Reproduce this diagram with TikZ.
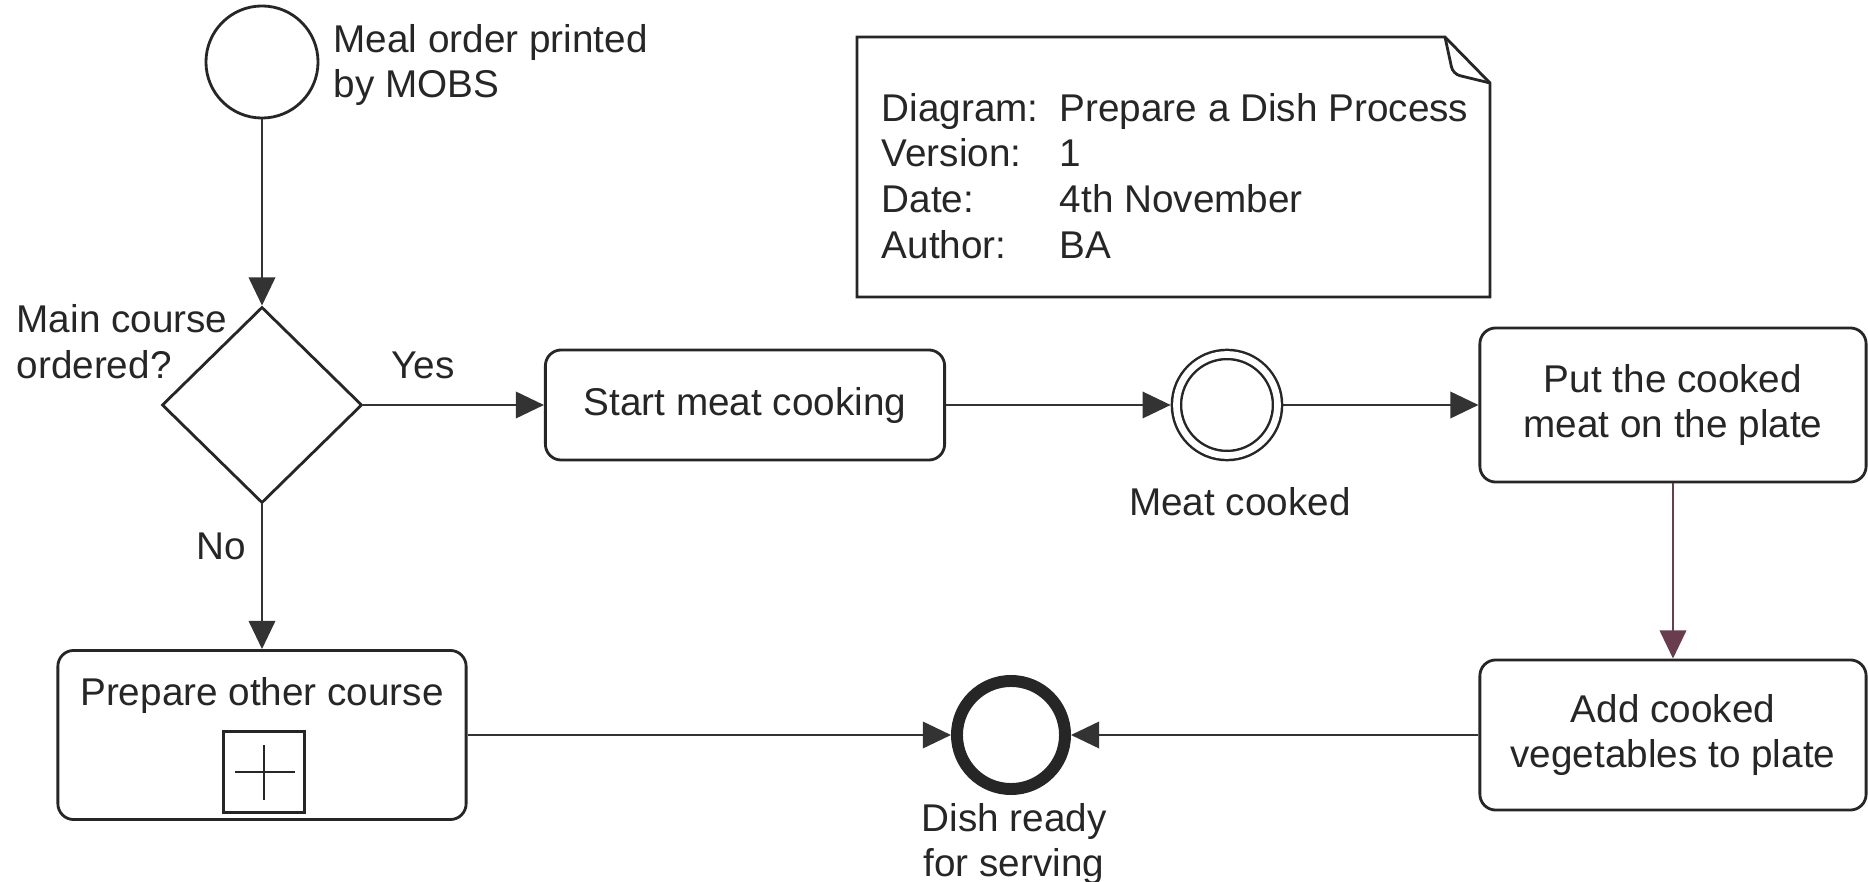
\documentclass[tikz,border=0pt]{standalone}
\usepackage{fontspec}
\setmainfont{Liberation Sans}
\usetikzlibrary{shapes.geometric, arrows.meta}
\definecolor{linkred}{RGB}{105,60,78}

\begin{document}
\begin{tikzpicture}[x=0.01cm, y=-0.01cm,
        font=\fontsize{11}{13}\selectfont, text=black!85,
        task/.style={draw=black!85, line width=0.8pt, rounded corners=4.5pt, align=center, inner sep=0pt},
        flow/.style={draw=black!80, line width=0.7pt, -{Triangle[length=8pt, width=7.5pt]}},
        lbl/.style={inner sep=0pt, align=center}]
            \useasboundingbox (0,0) rectangle (1868,882);

            \node[circle, draw=black!85, line width=0.8pt, minimum size=1.12cm, outer sep=0.4pt] (0) at (262,62) {};
            \node[diamond, draw=black!85, line width=0.8pt, minimum width=2cm, minimum height=1.96cm, inner sep=0pt] (1) at (262,405) {};
            \node[task, minimum width=3.99cm, minimum height=1.1cm] (2) at (745,405) {Start meat cooking};
            \node[circle, draw=black!85, double, line width=0.7pt, double distance=1.9pt, minimum size=1.01cm, outer sep=1.65pt] (3) at (1227,405) {};
            \node[task, minimum width=3.86cm, minimum height=1.54cm] (4) at (1673,405) {Put the cooked\\meat on the plate};
            \node[task, minimum width=3.86cm, minimum height=1.5cm] (5) at (1673,735) {Add cooked\\vegetables to plate};
            \node[circle, draw=black!85, line width=3.4pt, minimum size=1.08cm, outer sep=1.7pt] (6) at (1011,735) {};
            \node[task, minimum width=4.08cm, minimum height=1.69cm] (7) at (262,735) {};
            \node[draw=black!85, line width=0.6pt, minimum size=0.81cm, inner sep=0pt] (8) at (264,772) {};
            \draw[black!85, line width=0.7pt] (235,772) -- (295,772) (264,745) -- (264,800);

            \node[lbl, anchor=west, align=left] (l0) at (333,65) {Meal order printed\\by MOBS};
            \node[lbl, anchor=west, align=left] (l1) at (16,342) {Main course\\ordered?};
            \node[lbl] (l3) at (1240,502) {Meat cooked};
            \node[lbl] (l6) at (1014,844) {Dish ready\\for serving};
            \node[lbl] (l7) at (262,695) {Prepare other course};

            \draw[black!85, line width=0.8pt] (857,37) -- (1445,37) -- (1490,83) -- (1490,297) -- (857,297) -- cycle;
            \draw[black!85, line width=0.8pt, rounded corners=2pt] (1445,37) -- (1453,74) -- (1490,83);
            \node[lbl, anchor=west, align=left] (n) at (881,176) {\makebox[1.78cm][l]{Diagram:}Prepare a Dish Process\\
                \makebox[1.78cm][l]{Version:}1\\
                \makebox[1.78cm][l]{Date:}4th November\\
                \makebox[1.78cm][l]{Author:}BA};

            \draw[flow] (0) -- (1);
            \draw[flow] (1) -- node[lbl, pos=.33, yshift=0.4cm] (yes) {Yes} (2);
            \draw[flow] (1) -- node[lbl, pos=.29, xshift=-0.41cm] (no) {No} (7);
            \draw[flow] (2) -- (3);
            \draw[flow] (3) -- (4);
            \draw[flow, draw=linkred] (4) -- (5);
            \draw[flow] (5) -- (6);
            \draw[flow] (7) -- (6);
        \end{tikzpicture}
\end{document}
